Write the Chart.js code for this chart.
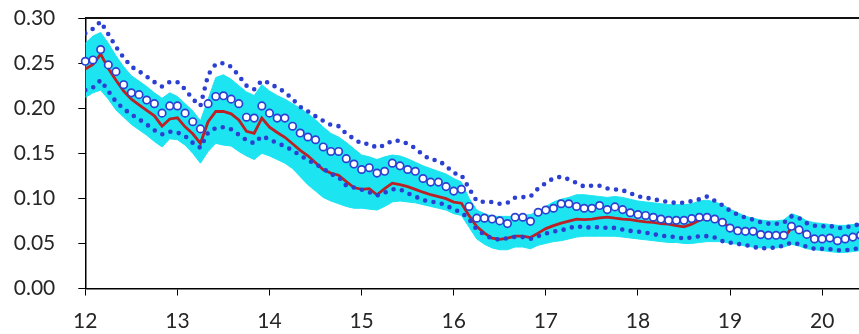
<!DOCTYPE html>
<html>
<head>
<meta charset="utf-8">
<script src="https://cdn.jsdelivr.net/npm/chart.js@4.4.1/dist/chart.umd.min.js"></script>
<style>
  html, body { margin: 0; padding: 0; background: #fff; }
  #wrap { width: 859px; height: 334px; position: relative; }
</style>
</head>
<body>
<div id="wrap"><canvas id="chart"></canvas></div>
<script>
'use strict';

// monthly series, first point at x = 12
const startX = 12;

const circles = [
  0.252, 0.2535, 0.265, 0.248, 0.2405, 0.226, 0.217, 0.215, 0.209, 0.205,
  0.1945, 0.2025, 0.2025, 0.1945, 0.185, 0.177, 0.205, 0.213, 0.2137, 0.210,
  0.205, 0.190, 0.189, 0.2025, 0.1945, 0.189, 0.189, 0.180, 0.1724, 0.168,
  0.165, 0.157, 0.152, 0.152, 0.144, 0.138, 0.132, 0.134, 0.128, 0.130,
  0.139, 0.136, 0.132, 0.130, 0.122, 0.118, 0.118, 0.113, 0.108, 0.110,
  0.091, 0.078, 0.078, 0.077, 0.075, 0.072, 0.079, 0.079, 0.0745, 0.0845,
  0.087, 0.089, 0.094, 0.094, 0.091, 0.089, 0.089, 0.092, 0.0875, 0.0905,
  0.0875, 0.084, 0.082, 0.081, 0.079, 0.077, 0.0756, 0.0756, 0.0756, 0.0775,
  0.079, 0.079, 0.077, 0.0734, 0.067, 0.064, 0.0634, 0.0634, 0.0598, 0.059,
  0.059, 0.059, 0.069, 0.065, 0.060, 0.055, 0.055, 0.056, 0.053, 0.055,
  0.057, 0.059
];

const upper = [
  0.283, 0.288, 0.296, 0.282, 0.268, 0.256, 0.246, 0.241, 0.235, 0.229,
  0.224, 0.229, 0.229, 0.221, 0.210, 0.2025, 0.237, 0.249, 0.250, 0.246,
  0.236, 0.225, 0.221, 0.2306, 0.228, 0.2225, 0.218, 0.210, 0.2015, 0.1965,
  0.191, 0.186, 0.1815, 0.180, 0.1716, 0.166, 0.1605, 0.1605, 0.156, 0.159,
  0.164, 0.1638, 0.1605, 0.1555, 0.148, 0.143, 0.142, 0.136, 0.128, 0.126,
  0.111, 0.097, 0.096, 0.096, 0.094, 0.095, 0.1007, 0.1013, 0.102, 0.111,
  0.117, 0.1223, 0.124, 0.121, 0.117, 0.113, 0.114, 0.114, 0.111, 0.110,
  0.109, 0.1057, 0.102, 0.101, 0.099, 0.0974, 0.0958, 0.0949, 0.0952, 0.0969,
  0.099, 0.102, 0.0974, 0.0924, 0.0863, 0.0819, 0.0786, 0.0764, 0.0734, 0.072,
  0.0716, 0.073, 0.080, 0.078, 0.0725, 0.0697, 0.069, 0.0695, 0.067, 0.0675,
  0.0697, 0.0714
];

const lower = [
  0.220, 0.223, 0.231, 0.219, 0.207, 0.1993, 0.193, 0.1876, 0.182, 0.1755,
  0.171, 0.174, 0.173, 0.169, 0.1616, 0.156, 0.173, 0.178, 0.179, 0.1766,
  0.1705, 0.1644, 0.161, 0.169, 0.1655, 0.161, 0.158, 0.153, 0.1478, 0.1423,
  0.138, 0.133, 0.1268, 0.1237, 0.114, 0.112, 0.1096, 0.1068, 0.103, 0.1063,
  0.110, 0.110, 0.1057, 0.102, 0.098, 0.0963, 0.0952, 0.0924, 0.0875, 0.0845,
  0.077, 0.0653, 0.0598, 0.0553, 0.0542, 0.0559, 0.0572, 0.057, 0.055, 0.0581,
  0.0609, 0.0631, 0.0645, 0.067, 0.0692, 0.0675, 0.068, 0.068, 0.0672, 0.0672,
  0.0653, 0.0639, 0.0631, 0.062, 0.0603, 0.0587, 0.0576, 0.0572, 0.0553, 0.0567,
  0.0579, 0.0581, 0.0565, 0.0526, 0.0509, 0.0495, 0.0482, 0.0462, 0.0445, 0.0448,
  0.0454, 0.0476, 0.0509, 0.0493, 0.0462, 0.044, 0.044, 0.0437, 0.0424, 0.0424,
  0.0437, 0.0448
];

const median = [
  0.2435, 0.2485, 0.260, 0.244, 0.231, 0.219, 0.210, 0.2037, 0.1976, 0.1915,
  0.180, 0.188, 0.1893, 0.1793, 0.1716, 0.161, 0.185, 0.1963, 0.1963, 0.1937,
  0.187, 0.1744, 0.172, 0.189, 0.179, 0.173, 0.1677, 0.1605, 0.1533, 0.1472,
  0.1395, 0.1317, 0.128, 0.1257, 0.1185, 0.112, 0.110, 0.1107, 0.104, 0.1107,
  0.1168, 0.1151, 0.1129, 0.110, 0.1068, 0.104, 0.1018, 0.0996, 0.0958, 0.0946,
  0.0808, 0.0686, 0.0614, 0.0559, 0.0545, 0.0559, 0.0581, 0.0581, 0.0565, 0.0614,
  0.0664, 0.0697, 0.0725, 0.0747, 0.0769, 0.0764, 0.077, 0.0783, 0.0792, 0.078,
  0.077, 0.0764, 0.075, 0.0738, 0.0734, 0.072, 0.0714, 0.0697, 0.0683, 0.0714,
  0.0758, 0.078, 0.077, 0.0734, 0.067, 0.064, 0.0634, 0.0634, 0.0598, 0.059,
  0.058, 0.056, 0.067, 0.065, 0.060, 0.055, 0.055, 0.056, 0.053, 0.055,
  0.057, 0.059
];

const bandHigh = [
  0.272, 0.280, 0.284, 0.272, 0.258, 0.246, 0.236, 0.230, 0.224, 0.217,
  0.211, 0.217, 0.213, 0.205, 0.197, 0.186, 0.210, 0.234, 0.237, 0.232,
  0.225, 0.218, 0.214, 0.226, 0.219, 0.214, 0.210, 0.205, 0.200, 0.194,
  0.187, 0.179, 0.172, 0.168, 0.162, 0.155, 0.148, 0.146, 0.143, 0.146,
  0.148, 0.147, 0.144, 0.140, 0.136, 0.133, 0.130, 0.127, 0.122, 0.118,
  0.100, 0.087, 0.083, 0.080, 0.080, 0.080, 0.080, 0.081, 0.082, 0.085,
  0.091, 0.096, 0.099, 0.101, 0.104, 0.104, 0.103, 0.102, 0.101, 0.102,
  0.101, 0.099, 0.097, 0.096, 0.095, 0.094, 0.093, 0.093, 0.093, 0.094,
  0.097, 0.098, 0.096, 0.093, 0.088, 0.084, 0.080, 0.078, 0.076, 0.075,
  0.075, 0.076, 0.083, 0.080, 0.075, 0.073, 0.072, 0.071, 0.070, 0.070,
  0.071, 0.072
];

const bandLow = [
  0.212, 0.217, 0.220, 0.210, 0.198, 0.190, 0.182, 0.176, 0.170, 0.163,
  0.157, 0.166, 0.165, 0.159, 0.150, 0.139, 0.152, 0.161, 0.159, 0.158,
  0.152, 0.147, 0.143, 0.150, 0.147, 0.143, 0.139, 0.133, 0.124, 0.115,
  0.108, 0.101, 0.097, 0.094, 0.091, 0.089, 0.089, 0.088, 0.087, 0.091,
  0.096, 0.097, 0.096, 0.095, 0.093, 0.091, 0.089, 0.087, 0.083, 0.081,
  0.068, 0.055, 0.049, 0.045, 0.043, 0.043, 0.046, 0.046, 0.044, 0.048,
  0.050, 0.052, 0.053, 0.055, 0.057, 0.058, 0.058, 0.058, 0.058, 0.058,
  0.057, 0.056, 0.055, 0.054, 0.053, 0.052, 0.051, 0.051, 0.050, 0.050,
  0.051, 0.052, 0.052, 0.052, 0.050, 0.049, 0.047, 0.046, 0.045, 0.045,
  0.045, 0.046, 0.049, 0.047, 0.044, 0.043, 0.042, 0.041, 0.040, 0.040,
  0.041, 0.042
];

const xMin = 12, xMax = 20.4;
const yMin = 0, yMax = 0.30, yStep = 0.05;

const blue  = '#2b3fd2';
const red   = '#bd2126';
const cyan  = '#1ce4f0';
const font  = { family: 'Lato', size: 21 };
const textColor = '#262626';

const pts = arr => arr.map((v, i) => ({ x: startX + i / 12, y: v }));

// frame line along the top of the plot
const topLine = {
  id: 'topLine',
  afterDraw(chart) {
    const { ctx, chartArea: a } = chart;
    ctx.save();
    ctx.strokeStyle = '#111';
    ctx.lineWidth = 2;
    ctx.beginPath();
    ctx.moveTo(a.left, a.top);
    ctx.lineTo(a.right, a.top);
    ctx.stroke();
    ctx.restore();
  }
};

const dotted = color => ({
  borderColor: color,
  borderWidth: 4.6,
  borderDash: [0, 8.5],
  borderCapStyle: 'round',
  pointRadius: 0,
  fill: false,
  tension: 0
});

new Chart(document.getElementById('chart').getContext('2d'), {
  type: 'line',
  data: {
    datasets: [
      {
        label: 'points',
        data: pts(circles),
        showLine: false,
        pointRadius: 3.7,
        pointBackgroundColor: '#fff',
        pointBorderColor: blue,
        pointBorderWidth: 1.7,
        clip: false
      },
      { label: 'upper', data: pts(upper), ...dotted(blue) },
      { label: 'lower', data: pts(lower), ...dotted(blue) },
      {
        label: 'median',
        data: pts(median),
        borderColor: red,
        borderWidth: 2.8,
        pointRadius: 0,
        fill: false,
        tension: 0
      },
      {
        label: 'band high',
        data: pts(bandHigh),
        borderColor: cyan,
        borderWidth: 1,
        backgroundColor: cyan,
        pointRadius: 0,
        fill: '+1',
        tension: 0
      },
      {
        label: 'band low',
        data: pts(bandLow),
        borderColor: cyan,
        borderWidth: 1,
        pointRadius: 0,
        fill: false,
        tension: 0
      }
    ]
  },
  options: {
    responsive: true,
    maintainAspectRatio: false,
    animation: false,
    devicePixelRatio: 1,
    layout: { autoPadding: false, padding: { left: 0, right: 0, top: 18, bottom: 0 } },
    plugins: { legend: { display: false }, tooltip: { enabled: false } },
    scales: {
      x: {
        type: 'linear',
        min: xMin,
        max: xMax,
        grid: { display: true, drawOnChartArea: false, drawTicks: true, tickLength: 7, color: '#000' },
        border: { display: true, color: '#000', width: 1.5 },
        ticks: { stepSize: 1, includeBounds: false, font, color: textColor, padding: 13, maxRotation: 0 },
        afterFit(scale) { scale.height = 45.5; scale.paddingLeft = 0; scale.paddingRight = 0; }
      },
      y: {
        min: yMin,
        max: yMax,
        grid: { display: true, drawOnChartArea: false, drawTicks: true, tickLength: 7, color: '#000' },
        border: { display: true, color: '#000', width: 1.5 },
        ticks: { stepSize: yStep, font, color: textColor, padding: 23, callback: v => v.toFixed(2) },
        afterFit(scale) { scale.width = 85.3; scale.paddingTop = 0; scale.paddingBottom = 0; }
      }
    }
  },
  plugins: [topLine]
});
</script>
</body>
</html>
